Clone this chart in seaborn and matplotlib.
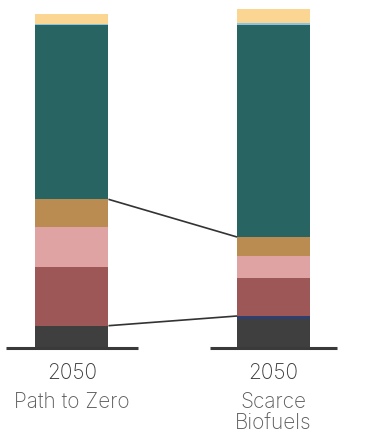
import numpy as np
import pandas as pd
import seaborn as sns
import matplotlib.pyplot as plt

# Scenario stacks, bottom segment first
scenarios = ["Path to Zero", "Scarce Biofuels"]
years = ["2050", "2050"]
segments = ["Fossil", "Other", "Electricity", "Hydrogen", "Ammonia", "Biofuels", "Synthetic", "Residual"]
path_to_zero = [22.3, 0.0, 58.4, 40.0, 28.0, 174.3, 1.3, 10.0]
scarce_biofuels = [29.0, 3.0, 38.0, 22.0, 19.0, 212.0, 2.0, 14.0]
colors = ["#3f3f3f", "#2e3f6e", "#9e5757", "#e0a3a3", "#ba8c52", "#286462", "#8ec3de", "#fbd592"]

sns.set_theme(style="white")
plt.rcParams["font.family"] = ["Inter", "DejaVu Sans"]

fig = plt.figure(figsize=(3.89, 4.33), dpi=100)
ax = fig.add_axes([0, 85 / 433, 1, 348 / 433])

values = np.array([path_to_zero, scarce_biofuels])
cum = values.cumsum(axis=1)
bar_w = 0.362

# layered cumulative bars: draw the tallest first, smaller totals on top
for i in range(len(segments) - 1, -1, -1):
    df = pd.DataFrame({"scenario": scenarios, "total": cum[:, i]})
    sns.barplot(data=df, x="scenario", y="total", color=colors[i],
                width=bar_w, saturation=1, ax=ax, linewidth=0)

half = bar_w / 2
# connector lines between the stacks
tan_idx = segments.index("Ammonia")
dark_idx = segments.index("Other")
for idx in (tan_idx, dark_idx):
    ax.plot([half, 1 - half], [cum[0, idx], cum[1, idx]], color="#333333", lw=1.2,
            solid_capstyle="butt", zorder=5)

# baselines under each stack
ax.plot([-0.3275, 0.3275], [0, 0], color="#3a3a3a", lw=2.2, solid_capstyle="butt", clip_on=False)
ax.plot([0.6873, 1.3127], [0, 0], color="#3a3a3a", lw=2.2, solid_capstyle="butt", clip_on=False)

# category labels
for x, (yr, name) in enumerate(zip(years, scenarios)):
    ax.text(x, -25, yr, ha="center", va="center", fontsize=15, color="#3a3a3a",
            fontweight="light", clip_on=False)
    lines = ["Path to Zero"] if name == "Path to Zero" else ["Scarce", "Biofuels"]
    for k, ln in enumerate(lines):
        ax.text(x, -54 - 21 * k, ln, ha="center", va="center", fontsize=15,
                color="#5a5a5a", fontweight="light", clip_on=False)

ax.set_xlim(-0.357, 1.573)
ax.set_ylim(0, 348)
ax.axis("off")

fig.savefig("out.png", dpi=100)
